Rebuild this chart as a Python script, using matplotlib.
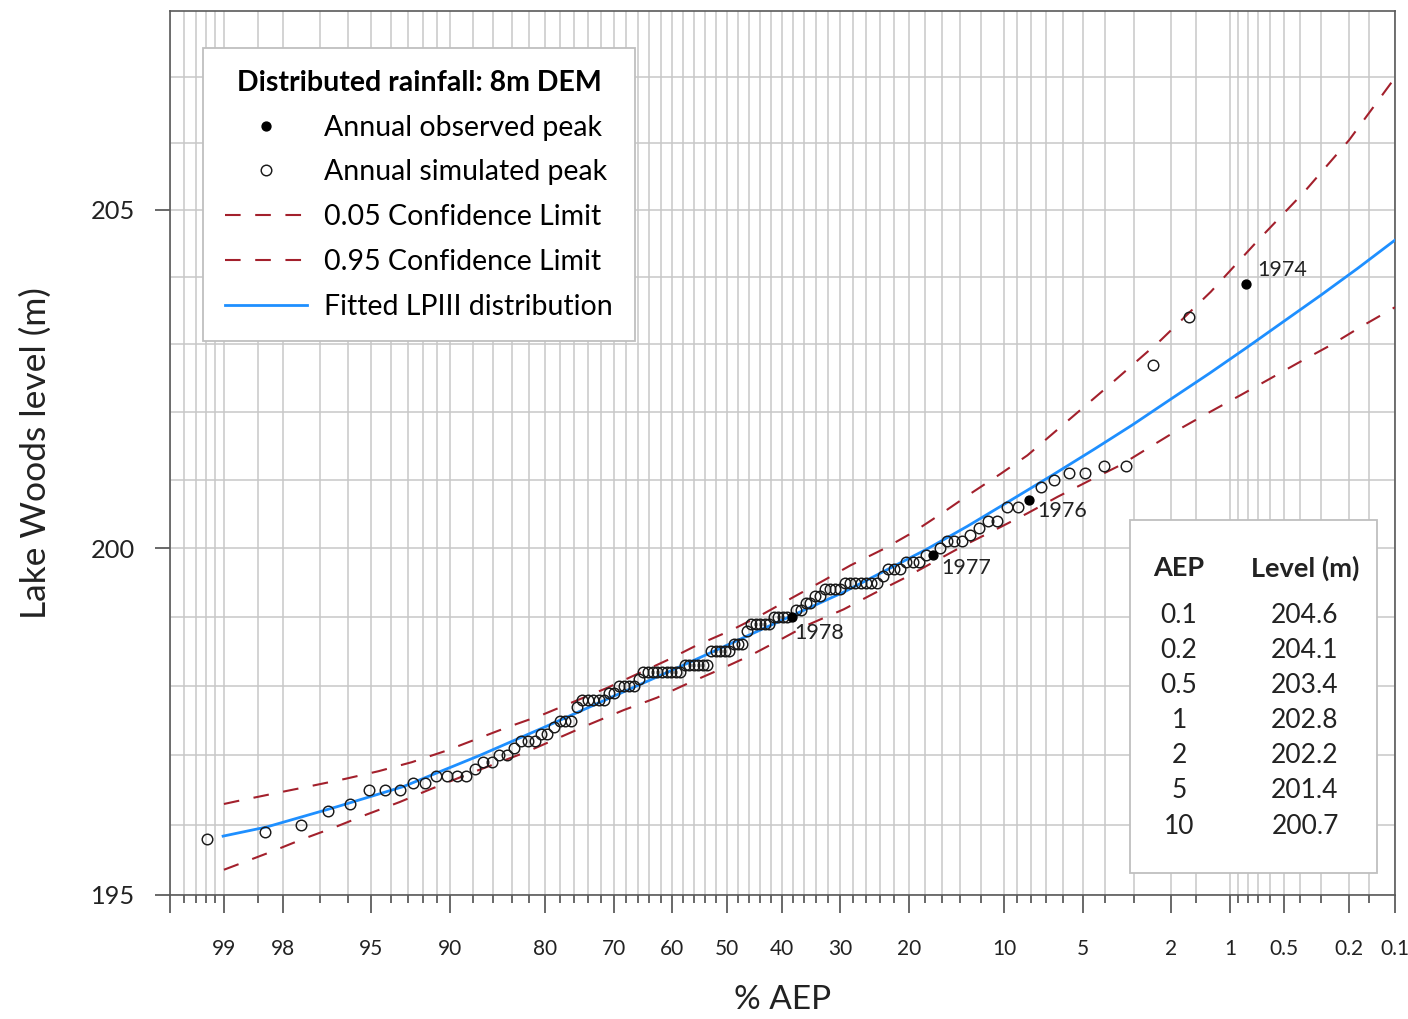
import numpy as np
import matplotlib
matplotlib.use('Agg')
import matplotlib.pyplot as plt
from matplotlib.ticker import FixedLocator, FixedFormatter, NullFormatter
from matplotlib.patches import Rectangle
from statistics import NormalDist

plt.rcParams['font.family'] = ['Lato', 'DejaVu Sans']

# annual peak lake levels (m), ranked highest first
peak_levels = [203.9, 203.4, 202.7, 201.2, 201.2, 201.1, 201.1, 201.0, 200.9, 200.7,
               200.6, 200.6, 200.4, 200.4, 200.3, 200.2, 200.1, 200.1, 200.1, 200.0,
               199.9, 199.9, 199.8, 199.8, 199.8, 199.7, 199.7, 199.7, 199.6, 199.5,
               199.5, 199.5, 199.5, 199.5, 199.5, 199.5, 199.4, 199.4, 199.4, 199.4,
               199.3, 199.3, 199.2, 199.2, 199.1, 199.1, 199.0, 199.0, 199.0, 199.0,
               199.0, 198.9, 198.9, 198.9, 198.9, 198.9, 198.8, 198.6, 198.6, 198.6,
               198.5, 198.5, 198.5, 198.5, 198.5, 198.3, 198.3, 198.3, 198.3, 198.3,
               198.3, 198.2, 198.2, 198.2, 198.2, 198.2, 198.2, 198.2, 198.2, 198.2,
               198.1, 198.0, 198.0, 198.0, 198.0, 197.9, 197.9, 197.8, 197.8, 197.8,
               197.8, 197.8, 197.7, 197.5, 197.5, 197.5, 197.4, 197.3, 197.3, 197.2,
               197.2, 197.2, 197.1, 197.0, 197.0, 196.9, 196.9, 196.8, 196.7, 196.7,
               196.7, 196.7, 196.6, 196.6, 196.5, 196.5, 196.5, 196.3, 196.2, 196.0,
               195.9, 195.8]
# ranks that are observed peaks (the rest are simulated)
obs_ranks = [1, 10, 21, 47]
obs_years = ['1974', '1976', '1977', '1978']

# fitted LPIII curve
fit_aep = [99.01, 98.34, 96.44, 93.27, 87.31, 79.74, 69.99, 58.52, 43.84, 29.44, 17.70,
           13.31, 9.47, 6.61, 4.47, 3.03, 2.00, 1.28, 0.801, 0.5, 0.300, 0.176, 0.1]
fit_level = [195.84, 195.97, 196.26, 196.55, 197.00, 197.42, 197.85, 198.28, 198.81,
             199.36, 199.99, 200.32, 200.70, 201.07, 201.45, 201.81, 202.19, 202.57,
             202.96, 203.34, 203.73, 204.13, 204.55]

# confidence limits
upper_aep = [99.0, 98.83, 98.12, 97.26, 96.13, 94.65, 92.75, 90.37, 84.56, 80.6, 76.09,
             71.04, 66.12, 60.91, 55.49, 49.35, 43.84, 37.86, 32.71, 28.37, 23.4, 19.36,
             15.78, 12.98, 10.27, 8.23, 3.92, 2.24, 1.26, 0.705, 0.379, 0.2, 0.1]
upper_level = [196.30, 196.34, 196.46, 196.56, 196.66, 196.77, 196.90, 197.06, 197.40,
               197.57, 197.77, 197.97, 198.17, 198.37, 198.59, 198.80, 199.02, 199.29,
               199.53, 199.75, 199.99, 200.24, 200.53, 200.80, 201.09, 201.36, 202.37,
               203.06, 203.78, 204.54, 205.27, 206.05, 206.99]
lower_aep = [99.0, 98.88, 98.27, 97.50, 96.56, 95.21, 93.47, 91.51, 88.25, 82.25, 77.96,
             73.63, 68.36, 62.67, 57.31, 51.2, 45.67, 40.22, 35.52, 29.44, 24.84, 20.65,
             16.92, 13.65, 10.84, 8.23, 6.32, 4.62, 3.42, 2.59, 1.86, 1.31, 0.872, 0.62,
             0.415, 0.26, 0.168, 0.1]
lower_level = [195.36, 195.41, 195.61, 195.80, 195.96, 196.15, 196.33, 196.51, 196.74,
               197.05, 197.26, 197.45, 197.65, 197.83, 198.03, 198.24, 198.44, 198.67,
               198.88, 199.11, 199.34, 199.56, 199.80, 200.04, 200.26, 200.51, 200.75,
               201.00, 201.22, 201.46, 201.73, 201.98, 202.25, 202.47, 202.72, 202.99,
               203.26, 203.55]

# summary table
table_aep = ['0.1', '0.2', '0.5', '1', '2', '5', '10']
table_level = ['204.6', '204.1', '203.4', '202.8', '202.2', '201.4', '200.7']

x_major = [99.5, 99, 98, 95, 90, 80, 70, 60, 50, 40, 30, 20, 10, 5, 2, 1, 0.5, 0.2, 0.1]
x_major_labels = ['', '99', '98', '95', '90', '80', '70', '60', '50', '40', '30', '20',
                  '10', '5', '2', '1', '0.5', '0.2', '0.1']
x_minor = [99.4, 99.3, 99.2, 99.1, 98.5, 97, 96, 94, 93, 92, 91, 88, 86, 84, 82, 78, 76,
           74, 72, 68, 66, 64, 62, 58, 56, 54, 52, 48, 46, 44, 42, 38, 36, 34, 32, 28, 26,
           24, 22, 18, 16, 14, 12, 9, 8, 7, 6, 4, 3, 1.5, 0.9, 0.8, 0.7, 0.6, 0.4, 0.3, 0.15]

# normal probability scale for % AEP
nd = NormalDist()
_ppf = np.vectorize(nd.inv_cdf, otypes=[float])
_cdf = np.vectorize(nd.cdf, otypes=[float])

def aep_to_z(p):
    q = np.clip(np.asarray(p, dtype=float) / 100.0, 1e-9, 1 - 1e-9)
    return _ppf(q)

def z_to_aep(z):
    return 100.0 * _cdf(np.asarray(z, dtype=float))

# weibull plotting positions
n = len(peak_levels)
ranks = np.arange(1, n + 1)
aep = 100.0 * ranks / (n + 1)
levels = np.array(peak_levels)
is_obs = np.isin(ranks, obs_ranks)

fig = plt.figure(figsize=(14.08, 10.19), dpi=100)
ax = fig.add_axes([170/1408, 1 - 895/1019, 1225/1408, 884/1019])
ax.set_xscale('function', functions=(aep_to_z, z_to_aep))
ax.set_yscale('log')

red = '#a3202c'
ax.plot(upper_aep, upper_level, color=red, lw=1.5, dashes=(7.5, 7), zorder=3,
        label='0.05 Confidence Limit')
ax.plot(lower_aep, lower_level, color=red, lw=1.5, dashes=(7.5, 7), zorder=3,
        label='0.95 Confidence Limit')
ax.plot(fit_aep, fit_level, color='#1e8fff', lw=2.0, zorder=3,
        label='Fitted LPIII distribution')
ax.plot(aep[~is_obs], levels[~is_obs], 'o', ms=7.6, mfc='none', mec='#1a1a1a', mew=1.05,
        zorder=4, label='Annual simulated peak')
ax.plot(aep[is_obs], levels[is_obs], 'o', ms=6.4, mfc='black', mec='black', zorder=5,
        label='Annual observed peak')

offsets = {'1974': (8, 9.5), '1976': (6, -8), '1977': (6, -9.5), '1978': (1.5, -11.5)}
for r, yr in zip(obs_ranks, obs_years):
    ax.annotate(yr, (aep[r - 1], levels[r - 1]), xytext=offsets[yr],
                textcoords='offset points', ha='left', va='center', fontsize=15.5,
                color='#222222', zorder=6)

ax.set_xlim(99.5, 0.1)
ax.set_ylim(195, 208)

ax.xaxis.set_major_locator(FixedLocator(x_major))
ax.xaxis.set_major_formatter(FixedFormatter(x_major_labels))
ax.xaxis.set_minor_locator(FixedLocator(x_minor))
ax.xaxis.set_minor_formatter(NullFormatter())
ax.yaxis.set_major_locator(FixedLocator([195, 200, 205]))
ax.yaxis.set_major_formatter(FixedFormatter(['195', '200', '205']))
ax.yaxis.set_minor_locator(FixedLocator(list(range(196, 208))))
ax.yaxis.set_minor_formatter(NullFormatter())

ax.tick_params(axis='x', which='major', direction='out', length=13, width=1.1,
               color='#404040', labelsize=15, labelcolor='#222222', pad=19)
ax.tick_params(axis='x', which='minor', direction='out', length=6, width=1.1,
               color='#404040')
ax.tick_params(axis='y', which='major', direction='out', length=11, width=1.1,
               color='#404040', labelsize=18.3, labelcolor='#222222', pad=14)
ax.tick_params(axis='y', which='minor', length=0)

ax.grid(True, which='both', color='#c8c8c8', lw=1.1)
ax.set_axisbelow(True)
for s in ax.spines.values():
    s.set_color('#5a5a5a')
    s.set_linewidth(1.2)

ax.set_xlabel('% AEP', fontsize=24, color='#222222', va='center')
ax.xaxis.set_label_coords(0.5, -0.1188)
ax.set_ylabel('Lake Woods level (m)', fontsize=25.5, color='#222222', va='center')
ax.yaxis.set_label_coords(-0.110, 0.5)

handles, labels = ax.get_legend_handles_labels()
order = [4, 3, 0, 1, 2]
leg = ax.legend([handles[i] for i in order], [labels[i] for i in order],
                loc='upper left', bbox_to_anchor=(0.027, 0.958), borderaxespad=0,
                title='Distributed rainfall: 8m DEM', fontsize=20.5,
                title_fontproperties={'weight': 'bold', 'size': 20.5},
                handlelength=2.9, handletextpad=0.6, labelspacing=0.66,
                borderpad=0.76, numpoints=1, fancybox=False, framealpha=1,
                edgecolor='#bfbfbf')
leg.get_frame().set_linewidth(1.3)

# summary table box
ax.add_patch(Rectangle((0.7837, 0.0249), 0.2016, 0.3993, transform=ax.transAxes,
                       facecolor='white', edgecolor='#bfbfbf', lw=1.3, zorder=6))
ax.text(0.8237, 0.3699, 'AEP', transform=ax.transAxes, ha='center', va='center',
        fontsize=19.5, fontweight='bold', color='#222222', zorder=7)
ax.text(0.9265, 0.3699, 'Level (m)', transform=ax.transAxes, ha='center', va='center',
        fontsize=19.5, fontweight='bold', color='#222222', zorder=7)
for i, (a, lv) in enumerate(zip(table_aep, table_level)):
    yy = 0.3167 - i * 0.0398
    ax.text(0.8237, yy, a, transform=ax.transAxes, ha='center', va='center',
            fontsize=19, color='#222222', zorder=7)
    ax.text(0.9265, yy, lv, transform=ax.transAxes, ha='center', va='center',
            fontsize=19, color='#222222', zorder=7)

fig.savefig('out.png', dpi=100)
